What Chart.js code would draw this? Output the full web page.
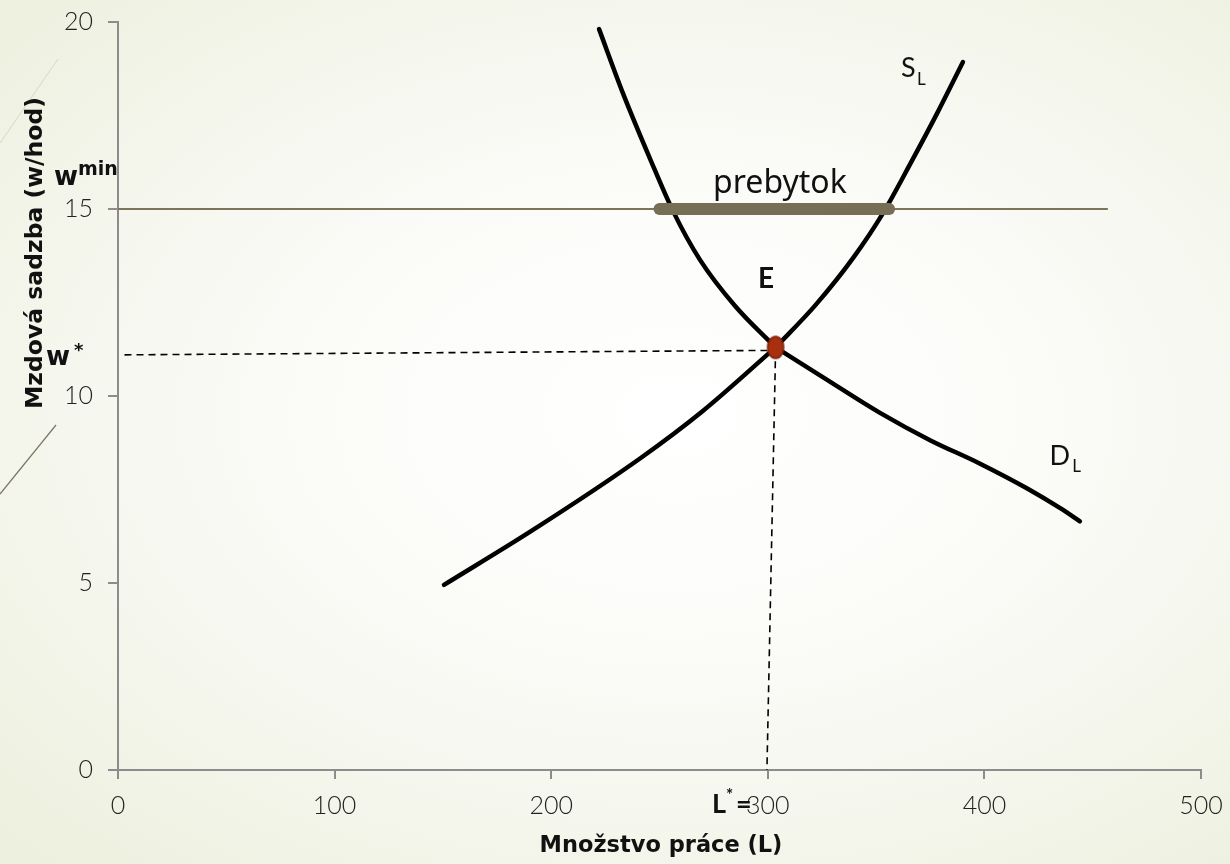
<!DOCTYPE html>
<html>
<head>
<meta charset="utf-8">
<script src="https://cdn.jsdelivr.net/npm/chart.js@4.4.0/dist/chart.umd.min.js"></script>
<style>
  html, body { margin: 0; padding: 0; }
  body {
    width: 1230px; height: 864px; overflow: hidden; position: relative;
    background: radial-gradient(ellipse 75% 70% at 55% 48%, #ffffff 0%, #fbfbf8 40%, #f3f5ea 75%, #edf0de 100%);
  }
  #deco { position: absolute; left: 0; top: 0; }
  #wrap { position: absolute; left: 0; top: 0; width: 1230px; height: 864px; }
</style>
</head>
<body>
<svg id="deco" width="1230" height="864">
  <line x1="0" y1="143" x2="58" y2="59" stroke="#d8d6c8" stroke-width="1"/>
  <line x1="0" y1="494" x2="56" y2="425" stroke="#7d7560" stroke-width="1.2"/>
</svg>
<div id="wrap"><canvas id="labourChart" width="1230" height="864"></canvas></div>
<script>
// axis ticks
const xTicks = [0, 100, 200, 300, 400, 500];
const yTicks = [0, 5, 10, 15, 20];

// equilibrium E
const eqL = 303.6;
const eqW = 11.3;

// labour demand D_L (L, w), two branches meeting at E
const demandUpperL = [222.1, 233.1, 245.6, 256.2, 268.7, 285.0, eqL];
const demandUpperW = [19.81, 18.1, 16.35, 14.95, 13.64, 12.4, eqW];
const demandLowerL = [eqL, 325.0, 351.8, 374.9, 398.0, 420.0, 435.0, 444.1];
const demandLowerW = [eqW, 10.52, 9.55, 8.82, 8.19, 7.52, 7.0, 6.65];

// labour supply S_L (L, w), two branches meeting at E
const supplyLowerL = [150.5, 191.6, 241.0, 270.0, eqL];
const supplyLowerW = [4.95, 6.42, 8.33, 9.6, eqW];
const supplyUpperL = [eqL, 322.0, 339.5, 353.2, 365.7, 378.1, 390.1];
const supplyUpperW = [eqW, 12.43, 13.7, 14.89, 16.2, 17.55, 18.93];

// minimum wage and surplus
const minWage = 15;
const minWageLine = [0, 457];
const surplusRange = [250, 356];

// dashed guides to w* and L*
const wStarLine = [[3, 11.1], [eqL, 11.22]];
const lStarLine = [[eqL, 11.25], [299.6, 0]];

const pts = (xs, ys) => xs.map((x, i) => ({ x: x, y: ys[i] }));
const pairs = (arr) => arr.map(p => ({ x: p[0], y: p[1] }));

// ellipse marker for E
const eMarker = document.createElement('canvas');
eMarker.width = 20; eMarker.height = 26;
(function () {
  const c = eMarker.getContext('2d');
  c.beginPath();
  c.ellipse(10, 13, 8, 11, 0, 0, Math.PI * 2);
  c.fillStyle = '#a9300e';
  c.fill();
  c.lineWidth = 1.6;
  c.strokeStyle = '#7e220c';
  c.stroke();
})();

const tickFont = { family: 'Lato, "Noto Sans", sans-serif', size: 25, weight: 300 };
const boldW = '"DejaVu Sans", sans-serif';

const curve = (label, data) => ({
  label: label,
  data: data,
  showLine: true,
  borderColor: '#000',
  borderWidth: 4.5,
  cubicInterpolationMode: 'monotone',
  borderCapStyle: 'round',
  pointRadius: 0,
  order: 2
});

const labelsPlugin = {
  id: 'labels',
  afterDatasetsDraw(chart) {
    const { ctx, scales: { x, y } } = chart;
    ctx.save();
    ctx.fillStyle = '#111';
    ctx.textBaseline = 'alphabetic';

    // prebytok
    ctx.font = '32px "Comic Sans MS", "Noto Sans", sans-serif';
    ctx.textAlign = 'center';
    ctx.fillText('prebytok', x.getPixelForValue(305.6), y.getPixelForValue(15.43));

    // E
    ctx.textAlign = 'left';
    ctx.font = 'bold 28px Lato, sans-serif';
    ctx.fillText('E', x.getPixelForValue(295.5), y.getPixelForValue(12.89));

    // S_L, D_L
    ctx.font = '27px Lato, sans-serif';
    ctx.fillText('S', x.getPixelForValue(361.5), y.getPixelForValue(18.53));
    ctx.font = '17px Lato, sans-serif';
    ctx.fillText('L', x.getPixelForValue(368.9), y.getPixelForValue(18.32));
    ctx.font = '27px Lato, sans-serif';
    ctx.fillText('D', x.getPixelForValue(430.0), y.getPixelForValue(8.16));
    ctx.font = '17px Lato, sans-serif';
    ctx.fillText('L', x.getPixelForValue(440.6), y.getPixelForValue(7.97));

    // w^min, w*
    ctx.font = 'bold 26px ' + boldW;
    ctx.fillText('w', 54, 185);
    ctx.fillText('w', 46, 365);
    ctx.font = 'bold 19px ' + boldW;
    ctx.fillText('min', 78, 175);
    ctx.font = 'bold 18px ' + boldW;
    ctx.fillText('*', 74, 356);

    // L*=
    ctx.font = 'bold 27px Lato, sans-serif';
    ctx.fillText('L', 712, 813);
    ctx.font = 'bold 17px Lato, sans-serif';
    ctx.fillText('*', 726, 801);
    ctx.font = 'bold 27px Lato, sans-serif';
    ctx.fillText('=', 736, 813);

    // axis titles
    ctx.font = 'bold 22.5px ' + boldW;
    ctx.textAlign = 'center';
    ctx.fillText('Množstvo práce (L)', 661, 852);
    ctx.font = 'bold 23.5px ' + boldW;
    ctx.translate(42, 253);
    ctx.rotate(-Math.PI / 2);
    ctx.fillText('Mzdová sadzba (w/hod)', 0, 0);
    ctx.restore();
  }
};

new Chart(document.getElementById('labourChart'), {
  type: 'scatter',
  data: {
    datasets: [
      {
        label: 'E',
        data: [{ x: eqL, y: eqW }],
        pointStyle: eMarker,
        pointRadius: 10,
        order: 0
      },
      {
        label: 'prebytok',
        data: pts(surplusRange, [minWage, minWage]),
        showLine: true,
        borderColor: '#766e55',
        borderWidth: 12,
        borderCapStyle: 'round',
        pointRadius: 0,
        order: 1
      },
      curve('D_L upper', pts(demandUpperL, demandUpperW)),
      curve('D_L lower', pts(demandLowerL, demandLowerW)),
      curve('S_L lower', pts(supplyLowerL, supplyLowerW)),
      curve('S_L upper', pts(supplyUpperL, supplyUpperW)),
      {
        label: 'w min',
        data: pts(minWageLine, [minWage, minWage]),
        showLine: true,
        borderColor: '#7d7559',
        borderWidth: 2,
        pointRadius: 0,
        order: 3
      },
      {
        label: 'w*',
        data: pairs(wStarLine),
        showLine: true,
        borderColor: '#000',
        borderWidth: 1.6,
        borderDash: [7, 5],
        pointRadius: 0,
        order: 3
      },
      {
        label: 'L*',
        data: pairs(lStarLine),
        showLine: true,
        borderColor: '#000',
        borderWidth: 1.6,
        borderDash: [7, 5],
        pointRadius: 0,
        order: 3
      }
    ]
  },
  options: {
    responsive: false,
    animation: false,
    layout: { padding: { top: 22, right: 29, bottom: 0, left: 0 } },
    scales: {
      x: {
        type: 'linear',
        min: 0,
        max: 500,
        afterFit: (s) => { s.height = 94; s.paddingLeft = 0; s.paddingRight = 0; },
        afterBuildTicks: (s) => { s.ticks = xTicks.map(v => ({ value: v })); },
        border: { color: '#8c8c8c', width: 2 },
        grid: { drawOnChartArea: false, color: '#8c8c8c', lineWidth: 2, tickLength: 9 },
        ticks: { color: '#222', font: tickFont, padding: 12, maxRotation: 0 }
      },
      y: {
        type: 'linear',
        min: 0,
        max: 20,
        afterFit: (s) => { s.width = 118; s.paddingTop = 0; s.paddingBottom = 0; },
        afterBuildTicks: (s) => { s.ticks = yTicks.map(v => ({ value: v })); },
        border: { color: '#8c8c8c', width: 2 },
        grid: { drawOnChartArea: false, color: '#8c8c8c', lineWidth: 2, tickLength: 10 },
        ticks: { color: '#222', font: tickFont, padding: 15 }
      }
    },
    plugins: {
      legend: { display: false },
      tooltip: { enabled: false }
    }
  },
  plugins: [labelsPlugin]
});
</script>
</body>
</html>
